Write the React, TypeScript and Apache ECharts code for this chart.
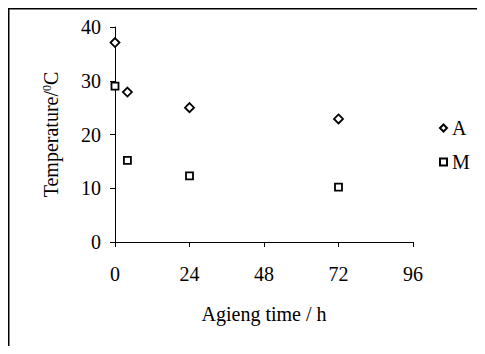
import React, { useEffect, useRef } from "react";
import * as echarts from "echarts";

const hours = [0, 4, 24, 72];
const seriesA = [37.1, 27.9, 25.0, 22.9];
const seriesM = [29.0, 15.2, 12.3, 10.2];
const xTicks = [0, 24, 48, 72, 96];
const yTicks = [0, 10, 20, 30, 40];
const seriesNames = ["A", "M"];

const FONT = "'Liberation Serif', 'Times New Roman', serif";

export default function App() {
  const ref = useRef<HTMLDivElement>(null);
  useEffect(() => {
    document.documentElement.style.overflow = "hidden";
    const chart = echarts.init(ref.current!, null, { renderer: "svg" });
    const pair = (vals: number[]) => hours.map((h, i) => [h, vals[i]]);
    chart.setOption({
      animation: false,
      backgroundColor: "#fff",
      textStyle: { fontFamily: FONT, color: "#000" },
      graphic: [
        {
          type: "rect",
          shape: { x: 0.75, y: 0.75, width: 1000, height: 1000 },
          style: { fill: "none", stroke: "#000", lineWidth: 1.5 },
          silent: true,
        },
      ],
      grid: { left: 107, top: 19, right: 72, bottom: 104 },
      legend: {
        orient: "vertical",
        left: 426,
        top: 105,
        itemWidth: 7,
        itemHeight: 7,
        itemGap: 14,
        textStyle: { fontFamily: FONT, fontSize: 20, color: "#000" },
        data: seriesNames,
      },
      xAxis: {
        type: "value",
        min: xTicks[0],
        max: xTicks[xTicks.length - 1],
        interval: 24,
        name: "Agieng time / h",
        nameLocation: "middle",
        nameGap: 62,
        nameTextStyle: { fontFamily: FONT, fontSize: 20, color: "#000" },
        axisLine: { show: true, lineStyle: { color: "#000", width: 1 } },
        axisTick: { show: true, length: 5, lineStyle: { color: "#000" } },
        axisLabel: { fontFamily: FONT, fontSize: 20, color: "#000", margin: 22 },
        splitLine: { show: false },
      },
      yAxis: {
        type: "value",
        min: yTicks[0],
        max: yTicks[yTicks.length - 1],
        interval: 10,
        name: "Temperature/{sup|0}C",
        nameLocation: "middle",
        nameGap: 54,
        nameTextStyle: {
          fontFamily: FONT,
          fontSize: 20,
          color: "#000",
          rich: {
            sup: { fontFamily: FONT, fontSize: 12, verticalAlign: "top", color: "#000" },
          },
        },
        axisLine: { show: true, lineStyle: { color: "#000", width: 1 } },
        axisTick: { show: true, length: 5, lineStyle: { color: "#000" } },
        axisLabel: { fontFamily: FONT, fontSize: 20, color: "#000", margin: 14 },
        splitLine: { show: false },
      },
      series: [
        {
          name: seriesNames[0],
          type: "scatter",
          symbol: "diamond",
          symbolSize: 9,
          itemStyle: { color: "#fff", borderColor: "#000", borderWidth: 1.8, opacity: 1 },
          data: pair(seriesA),
        },
        {
          name: seriesNames[1],
          type: "scatter",
          symbol: "rect",
          symbolSize: 7,
          itemStyle: { color: "#fff", borderColor: "#000", borderWidth: 1.8, opacity: 1 },
          data: pair(seriesM),
        },
      ],
    });
    return () => chart.dispose();
  }, []);
  return <div ref={ref} style={{ width: 477, height: 338 }} />;
}
